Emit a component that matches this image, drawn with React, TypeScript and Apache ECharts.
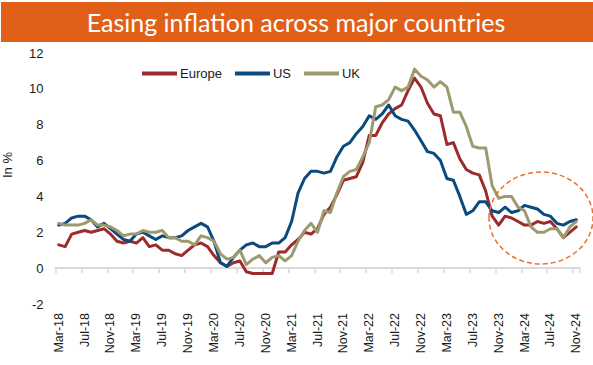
import React, { useEffect, useRef } from "react";
import * as echarts from "echarts";

const categories = [
  "Mar-18","Apr-18","May-18","Jun-18","Jul-18","Aug-18","Sep-18","Oct-18","Nov-18","Dec-18",
  "Jan-19","Feb-19","Mar-19","Apr-19","May-19","Jun-19","Jul-19","Aug-19","Sep-19","Oct-19","Nov-19","Dec-19",
  "Jan-20","Feb-20","Mar-20","Apr-20","May-20","Jun-20","Jul-20","Aug-20","Sep-20","Oct-20","Nov-20","Dec-20",
  "Jan-21","Feb-21","Mar-21","Apr-21","May-21","Jun-21","Jul-21","Aug-21","Sep-21","Oct-21","Nov-21","Dec-21",
  "Jan-22","Feb-22","Mar-22","Apr-22","May-22","Jun-22","Jul-22","Aug-22","Sep-22","Oct-22","Nov-22","Dec-22",
  "Jan-23","Feb-23","Mar-23","Apr-23","May-23","Jun-23","Jul-23","Aug-23","Sep-23","Oct-23","Nov-23","Dec-23",
  "Jan-24","Feb-24","Mar-24","Apr-24","May-24","Jun-24","Jul-24","Aug-24","Sep-24","Oct-24","Nov-24",
];

const europe = [
  1.3, 1.2, 1.9, 2.0, 2.1, 2.0, 2.1, 2.2, 1.9, 1.5,
  1.4, 1.5, 1.4, 1.7, 1.2, 1.3, 1.0, 1.0, 0.8, 0.7, 1.0, 1.3,
  1.4, 1.2, 0.7, 0.3, 0.1, 0.3, 0.4, -0.2, -0.3, -0.3, -0.3, -0.3,
  0.9, 0.9, 1.3, 1.6, 2.0, 1.9, 2.2, 3.0, 3.4, 4.1, 4.9, 5.0,
  5.1, 5.9, 7.4, 7.4, 8.1, 8.6, 8.9, 9.1, 9.9, 10.6, 10.1, 9.2,
  8.6, 8.5, 6.9, 7.0, 6.1, 5.5, 5.3, 5.2, 4.3, 2.9, 2.4, 2.9,
  2.8, 2.6, 2.4, 2.4, 2.6, 2.5, 2.6, 2.2, 1.7, 2.0, 2.3,
];

const us = [
  2.4, 2.5, 2.8, 2.9, 2.9, 2.7, 2.3, 2.5, 2.2, 1.9,
  1.6, 1.5, 1.9, 2.0, 1.8, 1.6, 1.8, 1.7, 1.7, 1.8, 2.1, 2.3,
  2.5, 2.3, 1.5, 0.3, 0.1, 0.6, 1.0, 1.3, 1.4, 1.2, 1.2, 1.4,
  1.4, 1.7, 2.6, 4.2, 5.0, 5.4, 5.4, 5.3, 5.4, 6.2, 6.8, 7.0,
  7.5, 7.9, 8.5, 8.3, 8.6, 9.1, 8.5, 8.3, 8.2, 7.7, 7.1, 6.5,
  6.4, 6.0, 5.0, 4.9, 4.0, 3.0, 3.2, 3.7, 3.7, 3.2, 3.1, 3.4,
  3.1, 3.2, 3.5, 3.4, 3.3, 3.0, 2.9, 2.5, 2.4, 2.6, 2.7,
];

const uk = [
  2.5, 2.4, 2.4, 2.4, 2.5, 2.7, 2.4, 2.4, 2.3, 2.1,
  1.8, 1.9, 1.9, 2.1, 2.0, 2.0, 2.1, 1.7, 1.7, 1.5, 1.5, 1.3,
  1.8, 1.7, 1.5, 0.8, 0.5, 0.6, 1.0, 0.2, 0.5, 0.7, 0.3, 0.6,
  0.7, 0.4, 0.7, 1.5, 2.1, 2.5, 2.0, 3.2, 3.1, 4.2, 5.1, 5.4,
  5.5, 6.2, 7.0, 9.0, 9.1, 9.4, 10.1, 9.9, 10.1, 11.1, 10.7, 10.5,
  10.1, 10.4, 10.1, 8.7, 8.7, 7.9, 6.8, 6.7, 6.7, 4.6, 3.9, 4.0,
  4.0, 3.4, 3.2, 2.3, 2.0, 2.0, 2.2, 2.2, 1.7, 2.3, 2.6,
];

const seriesNames = ["Europe", "US", "UK"];
const seriesColors = ["#9E2A2B", "#0B4A7E", "#9D9A6F"];
const yTicks = { min: -2, max: 12, interval: 2 };
const titleText = "Easing inflation across major countries";
const yAxisTitle = "In %";

export default function App() {
  const ref = useRef<HTMLDivElement>(null);

  useEffect(() => {
    if (!ref.current) return;
    const chart = echarts.init(ref.current, undefined, { renderer: "svg" });
    const font = "Liberation Sans";
    const values = [europe, us, uk];
    chart.setOption({
      animation: false,
      backgroundColor: "#ffffff",
      grid: {
        left: 55.5,
        right: 13.5,
        top: 53,
        bottom: 61,
        containLabel: false,
        outerBoundsMode: "none",
      },
      legend: {
        data: seriesNames,
        left: 137,
        top: 62,
        icon: "rect",
        itemWidth: 35,
        itemHeight: 4,
        itemGap: 13,
        textStyle: { color: "#1a1a1a", fontSize: 13, fontFamily: font, padding: [0, 0, 0, -2] },
      },
      xAxis: {
        type: "category",
        data: categories,
        boundaryGap: true,
        axisLine: { onZero: true, lineStyle: { color: "#d9d9d9", width: 2 } },
        axisTick: { show: true, interval: 3, length: 5, lineStyle: { color: "#d9d9d9", width: 1.5 } },
        axisLabel: {
          interval: 3,
          rotate: 90,
          margin: 9,
          color: "#1a1a1a",
          fontSize: 12.5,
          fontFamily: font,
        },
        splitLine: { show: false },
      },
      yAxis: {
        type: "value",
        min: yTicks.min,
        max: yTicks.max,
        interval: yTicks.interval,
        axisLine: { show: false },
        axisTick: { show: false },
        splitLine: { show: false },
        axisLabel: { color: "#1a1a1a", fontSize: 13, fontFamily: font, margin: 12 },
      },
      series: seriesNames.map((name, i) => ({
        name,
        type: "line",
        data: values[i],
        showSymbol: false,
        symbol: "none",
        smooth: false,
        color: seriesColors[i],
        lineStyle: { width: 3, color: seriesColors[i], cap: "round", join: "round" },
      })),
      graphic: [
        {
          type: "rect",
          shape: { x: 1, y: 2, width: 592, height: 40 },
          style: { fill: "#E25F17" },
          z: 10,
        },
        {
          type: "text",
          x: 296,
          y: 22,
          style: {
            text: titleText,
            fill: "#ffffff",
            fontSize: 25,
            fontFamily: "Lato",
            align: "center",
            verticalAlign: "middle",
          },
          z: 11,
        },
        {
          type: "text",
          x: 7,
          y: 165,
          rotation: Math.PI / 2,
          style: {
            text: yAxisTitle,
            fill: "#1a1a1a",
            fontSize: 13,
            fontFamily: font,
            align: "center",
            verticalAlign: "middle",
          },
          z: 10,
        },
        {
          type: "ellipse",
          shape: { cx: 541, cy: 218, rx: 52, ry: 46 },
          style: { fill: "none", stroke: "#E8712B", lineWidth: 1.5, lineDash: [5, 3] },
          z: 10,
        },
      ],
    });
    return () => chart.dispose();
  }, []);

  return (
    <div
      ref={ref}
      style={{ position: "fixed", left: 0, top: 0, width: 593, height: 365 }}
    />
  );
}
